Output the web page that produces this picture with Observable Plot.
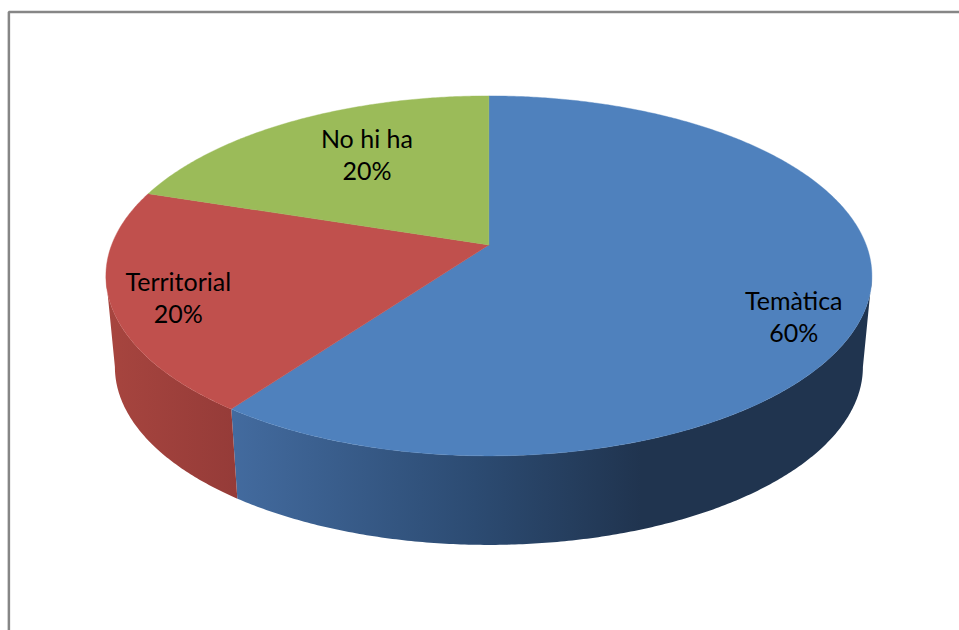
<!DOCTYPE html>
<html>
<head>
<meta charset="utf-8">
<script src="https://cdn.jsdelivr.net/npm/d3@7"></script>
<script src="https://cdn.jsdelivr.net/npm/@observablehq/plot@0.6"></script>
<style>
html, body { margin: 0; padding: 0; background: #fff; overflow: hidden; }
svg { display: block; }
</style>
</head>
<body>
<div id="chart"></div>
<script>
// Chart values
const categories = ["Temàtica", "Territorial", "No hi ha"];
const shares = [60, 20, 20];
const topColors = ["#4f81bd", "#c0504d", "#9bbb59"];

// Label anchors, in the chart's plane units
const labelU = [0.796, -0.811, -0.3185];
const labelV = [-0.22, -0.114, 0.681];

// Gradient stops for the visible side walls
const wallStops = [
  [[0, "#436b9f"], [0.38, "#2c4b72"], [0.64, "#20344f"], [1, "#20344f"]],
  [[0, "#a7453f"], [1, "#953b38"]]
];

// Perspective of the disc and thickness of the pie
const tilt = 0.172;
const lowerScaleU = 374 / 383;
const lowerScaleV = 178 / 180;
const lowerDrop = -0.5056;

// Disc angle (clockwise from 12 o'clock) to plane coordinates
function rim(deg) {
  const t = deg * Math.PI / 180, s = Math.sin(t), c = Math.cos(t), w = 1 + tilt * c;
  return {u: Math.sqrt(1 - tilt * tilt) * s / w, v: (c + tilt) / w};
}
function arc(a0, a1) {
  const n = Math.max(2, Math.ceil(Math.abs(a1 - a0) * 2));
  return d3.range(n + 1).map((i) => rim(a0 + (a1 - a0) * i / n));
}
const lower = (p) => ({u: p.u * lowerScaleU, v: p.v * lowerScaleV + lowerDrop});

// Slice boundaries from the values
const total = d3.sum(shares);
const cum = [0, ...d3.cumsum(shares)].map((d) => d / total * 360);
const sil = Math.acos(-tilt) * 180 / Math.PI; // where the wall silhouette meets the top rim

const tops = categories.map((_, i) => [{u: 0, v: tilt}, ...arc(cum[i], cum[i + 1]), {u: 0, v: tilt}]);
const wall = (a0, a1) => {
  const up = arc(a0, a1);
  return [...up, ...up.slice().reverse().map(lower)];
};
const walls = [wall(sil, cum[1]), wall(cum[1], 360 - sil)];

// Outer border of the picture: left and top edges only
const borderU = [-1.2533, -1.2533, 1.3];
const borderV = [-2, 1.4661, 1.4661];
const border = borderU.map((u, i) => ({u, v: borderV[i]}));

const defs = () => {
  const d = d3.create("svg:defs");
  wallStops.forEach((stops, i) => {
    const g = d.append("linearGradient").attr("id", `wall${i}`);
    stops.forEach(([o, c]) => g.append("stop").attr("offset", o).attr("stop-color", c));
  });
  return d.node();
};

const labels = categories.map((c, i) => ({
  text: `${c}\n${shares[i]}%`, u: labelU[i], v: labelV[i]
}));

const chart = Plot.plot({
  width: 959,
  height: 630,
  margin: 0,
  style: {background: "#fff"},
  x: {domain: [-1, 1], range: [105.4, 871.4], axis: null},
  y: {domain: [-1, 1], range: [455.4, 95.4], axis: null},
  marks: [
    defs,
    Plot.line(border, {x: "u", y: "v", stroke: "#868686", strokeWidth: 2.5, curve: "linear", strokeLinejoin: "miter"}),
    ...walls.map((w, i) => Plot.line(w, {x: "u", y: "v", fill: `url(#wall${i})`, stroke: "none", curve: "linear"})),
    ...tops.map((t, i) => Plot.line(t, {x: "u", y: "v", fill: topColors[i], stroke: topColors[i], strokeWidth: 0.4, curve: "linear"})),
    Plot.text(labels, {
      x: "u", y: "v", text: "text",
      fontFamily: "Lato, Carlito, sans-serif", fontSize: 25, lineHeight: 1.28,
      fill: "#000", textAnchor: "middle"
    })
  ]
});
document.getElementById("chart").append(chart);
</script>
</body>
</html>
